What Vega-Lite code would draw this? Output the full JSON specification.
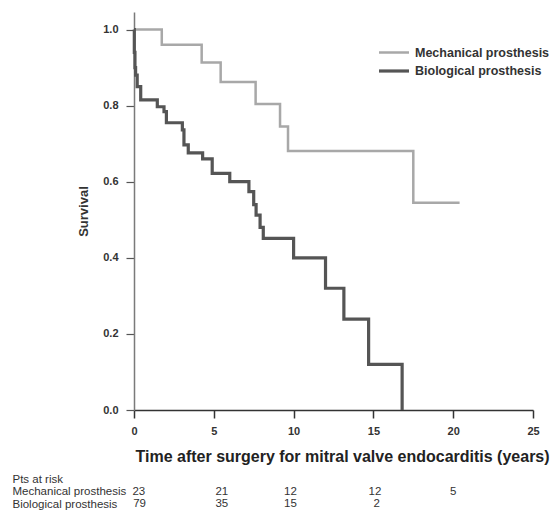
{
  "$schema": "https://vega.github.io/schema/vega-lite/v6.json",
  "padding": {"left": 12, "top": 12, "right": 0, "bottom": 0},
  "background": "white",
  "bounds": "flush",
  "spacing": 63,
  "datasets": {
    "km": [
      {"group": "Mechanical prosthesis", "time": 0, "survival": 1.0},
      {"group": "Mechanical prosthesis", "time": 1.74, "survival": 0.96},
      {"group": "Mechanical prosthesis", "time": 4.24, "survival": 0.913},
      {"group": "Mechanical prosthesis", "time": 5.43, "survival": 0.862},
      {"group": "Mechanical prosthesis", "time": 7.62, "survival": 0.804},
      {"group": "Mechanical prosthesis", "time": 9.15, "survival": 0.745},
      {"group": "Mechanical prosthesis", "time": 9.65, "survival": 0.681},
      {"group": "Mechanical prosthesis", "time": 17.5, "survival": 0.545},
      {"group": "Mechanical prosthesis", "time": 20.4, "survival": 0.545},
      {"group": "Biological prosthesis", "time": 0, "survival": 1.0},
      {"group": "Biological prosthesis", "time": 0.02, "survival": 0.94},
      {"group": "Biological prosthesis", "time": 0.06, "survival": 0.9},
      {"group": "Biological prosthesis", "time": 0.1, "survival": 0.88},
      {"group": "Biological prosthesis", "time": 0.2, "survival": 0.85},
      {"group": "Biological prosthesis", "time": 0.42, "survival": 0.815},
      {"group": "Biological prosthesis", "time": 1.46, "survival": 0.797},
      {"group": "Biological prosthesis", "time": 1.88, "survival": 0.784},
      {"group": "Biological prosthesis", "time": 2.03, "survival": 0.755},
      {"group": "Biological prosthesis", "time": 3.03, "survival": 0.736},
      {"group": "Biological prosthesis", "time": 3.13, "survival": 0.697},
      {"group": "Biological prosthesis", "time": 3.4, "survival": 0.676},
      {"group": "Biological prosthesis", "time": 4.3, "survival": 0.66},
      {"group": "Biological prosthesis", "time": 4.9, "survival": 0.622},
      {"group": "Biological prosthesis", "time": 6.0, "survival": 0.6},
      {"group": "Biological prosthesis", "time": 7.2, "survival": 0.574},
      {"group": "Biological prosthesis", "time": 7.5, "survival": 0.54},
      {"group": "Biological prosthesis", "time": 7.65, "survival": 0.512},
      {"group": "Biological prosthesis", "time": 7.9, "survival": 0.48},
      {"group": "Biological prosthesis", "time": 8.1, "survival": 0.451},
      {"group": "Biological prosthesis", "time": 10.0, "survival": 0.4},
      {"group": "Biological prosthesis", "time": 12.0, "survival": 0.32},
      {"group": "Biological prosthesis", "time": 13.15, "survival": 0.239},
      {"group": "Biological prosthesis", "time": 14.7, "survival": 0.12},
      {"group": "Biological prosthesis", "time": 16.8, "survival": 0.0}
    ],
    "risk": [
      {"row": "Mechanical prosthesis", "time": 0.3, "n": "23"},
      {"row": "Mechanical prosthesis", "time": 5.5, "n": "21"},
      {"row": "Mechanical prosthesis", "time": 9.8, "n": "12"},
      {"row": "Mechanical prosthesis", "time": 15.1, "n": "12"},
      {"row": "Mechanical prosthesis", "time": 20.0, "n": "5"},
      {"row": "Biological prosthesis", "time": 0.35, "n": "79"},
      {"row": "Biological prosthesis", "time": 5.5, "n": "35"},
      {"row": "Biological prosthesis", "time": 9.8, "n": "15"},
      {"row": "Biological prosthesis", "time": 15.2, "n": "2"}
    ]
  },
  "vconcat": [
    {
      "width": 399,
      "height": 398,
      "layer": [
        {
          "data": {"name": "km"},
          "mark": {"type": "line", "interpolate": "step-after", "clip": false},
          "encoding": {
            "x": {
              "field": "time", "type": "quantitative",
              "scale": {"domain": [0, 25], "nice": false, "zero": false},
              "axis": {
                "values": [0, 5, 10, 15, 20, 25],
                "title": "Time after surgery for mitral valve endocarditis (years)",
                "grid": false, "tickSize": 8, "labelPadding": 7,
                "labelFont": "Liberation Sans", "labelFontSize": 11, "labelFontWeight": "bold", "labelColor": "#333",
                "labelFlush": false,
                "titleFont": "Liberation Sans", "titleFontSize": 16, "titleFontWeight": "bold", "titleColor": "#222",
                "titlePadding": 12, "titleAnchor": "start", "titleAlign": "left", "titleX": 1,
                "domainColor": "#333", "domainWidth": 1.5, "tickColor": "#333", "tickWidth": 1.5
              }
            },
            "y": {
              "field": "survival", "type": "quantitative",
              "scale": {"domain": [0, 1.046], "nice": false},
              "axis": {
                "values": [0, 0.2, 0.4, 0.6, 0.8, 1.0],
                "format": ".1f",
                "title": "Survival",
                "grid": false, "tickSize": 8, "labelPadding": 8,
                "labelFont": "Liberation Sans", "labelFontSize": 11, "labelFontWeight": "bold", "labelColor": "#333",
                "titleFont": "Liberation Sans", "titleFontSize": 13, "titleFontWeight": "bold", "titleColor": "#333",
                "titlePadding": 12,
                "domainColor": "#7a7a7a", "domainWidth": 1.5, "tickColor": "#555", "tickWidth": 1.2
              }
            },
            "color": {
              "field": "group", "type": "nominal",
              "scale": {"domain": ["Mechanical prosthesis", "Biological prosthesis"], "range": ["#a8a8a8", "#555555"]},
              "legend": {
                "title": null, "orient": "none", "legendX": 249, "legendY": 30,
                "symbolType": "M-1.667,0H1.667", "symbolSize": 324, "symbolStrokeWidth": 3, "symbolFillColor": "transparent",
                "labelFont": "Liberation Sans", "labelFontSize": 12.5, "labelFontWeight": "bold", "labelColor": "#333",
                "labelOffset": 10, "rowPadding": 1, "labelLimit": 300
              }
            },
            "strokeWidth": {
              "field": "group", "type": "nominal",
              "scale": {"domain": ["Mechanical prosthesis", "Biological prosthesis"], "range": [2.5, 3.2]},
              "legend": null
            }
          }
        },
        {
          "mark": {"type": "text", "text": "p< 0.001", "font": "Liberation Sans", "fontSize": 11, "fontWeight": "bold", "color": "#333"},
          "encoding": {
            "x": {"datum": 24.19, "type": "quantitative"},
            "y": {"datum": 0.828, "type": "quantitative"}
          }
        }
      ]
    },
    {
      "width": 399,
      "height": 37.5,
      "data": {"name": "risk"},
      "mark": {"type": "text", "font": "Liberation Sans", "fontSize": 11.5, "color": "#333"},
      "encoding": {
        "x": {
          "field": "time", "type": "quantitative",
          "scale": {"domain": [0, 25], "nice": false, "zero": false},
          "axis": null
        },
        "y": {
          "field": "row", "type": "nominal",
          "scale": {"domain": ["Pts at risk", "Mechanical prosthesis", "Biological prosthesis"], "paddingInner": 0, "paddingOuter": 0},
          "axis": {
            "title": null, "domain": false, "ticks": false, "grid": false,
            "labelAlign": "left", "labelPadding": 122,
            "labelFont": "Liberation Sans", "labelFontSize": 11.5, "labelColor": "#333", "labelLimit": 200
          }
        },
        "text": {"field": "n", "type": "nominal"}
      }
    }
  ],
  "config": {
    "view": {"stroke": null}
  }
}
